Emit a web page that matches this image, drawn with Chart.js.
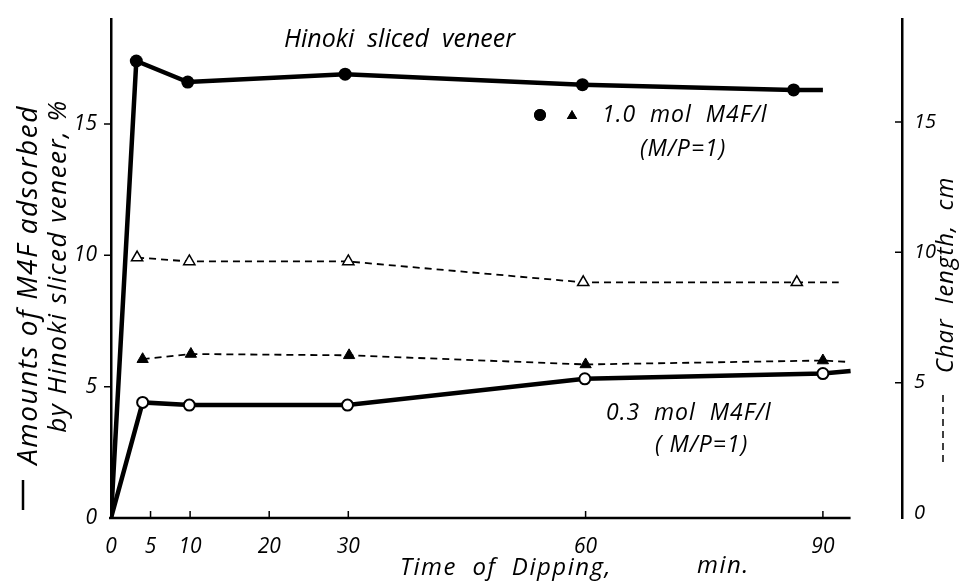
<!DOCTYPE html>
<html>
<head>
<meta charset="utf-8">
<script src="https://cdn.jsdelivr.net/npm/chart.js@4.4.0/dist/chart.umd.min.js"></script>
<style>
  html, body { margin: 0; padding: 0; background: #fff; }
  #wrap { width: 964px; height: 584px; position: relative; }
</style>
</head>
<body>
<div id="wrap"><canvas id="chart"></canvas></div>
<script>
// dipping time (min) and M4F adsorbed (%) - solid lines, left axis
const timeHigh = [0, 3.2, 9.7, 29.6, 59.6, 86.3, 90];
const adsorbHigh = [0, 17.4, 16.6, 16.9, 16.5, 16.3, 16.3];
const timeLow = [0, 4.0, 9.9, 29.9, 59.9, 90, 93.5];
const adsorbLow = [0, 4.4, 4.3, 4.3, 5.3, 5.5, 5.6];

// char length (cm) - dashed lines, right axis
const timeCharHigh = [4.0, 10.1, 30.1, 60, 90, 93];
const charHigh = [5.9, 6.1, 6.05, 5.7, 5.85, 5.8];
const timeCharLow = [3.3, 9.9, 30, 59.7, 86.7, 92];
const charLow = [9.8, 9.65, 9.65, 8.85, 8.85, 8.85];

// tick labels
const timeTicks = [0, 5, 10, 20, 30, 60, 90];
const percentTicks = [0, 5, 10, 15];
const charTicks = [0, 5, 10, 15];

const FONT = '"Open Sans", "DejaVu Sans", sans-serif';

function toPoints(xs, ys) {
    return xs.map((x, i) => ({x: x, y: ys[i]}));
}

// radius 0 on the line ends that carry no marker
function radii(n, r, first, last) {
    return Array.from({length: n}, (_, i) => ((first && i === 0) || (last && i === n - 1)) ? 0 : r);
}

// write text turned a quarter left, centred on (x, y)
function upText(ctx, text, x, y, font, spacing) {
    ctx.save();
    ctx.translate(x, y);
    ctx.rotate(-Math.PI / 2);
    ctx.textAlign = 'center';
    ctx.font = font;
    ctx.letterSpacing = spacing;
    ctx.fillText(text, 0, 0);
    ctx.restore();
}

// axis lines, tick marks and all the hand lettering
const decorPlugin = {
    id: 'decor',
    afterDraw(chart) {
        const ctx = chart.ctx;
        const x = chart.scales.x;
        const y = chart.scales.y;
        const yc = chart.scales.yChar;
        const area = chart.chartArea;
        ctx.save();
        ctx.strokeStyle = '#000';
        ctx.fillStyle = '#000';

        // x axis line stops short of the right axis
        ctx.lineWidth = 2.5;
        ctx.beginPath();
        ctx.moveTo(area.left - 2, area.bottom);
        ctx.lineTo(x.getPixelForValue(93.5), area.bottom);
        ctx.stroke();

        ctx.lineWidth = 1.5;
        ctx.beginPath();
        timeTicks.slice(1).forEach(v => {
            const px = x.getPixelForValue(v);
            ctx.moveTo(px, area.bottom);
            ctx.lineTo(px, area.bottom - 7);
        });
        percentTicks.slice(1).forEach(v => {
            const py = y.getPixelForValue(v);
            ctx.moveTo(area.left - 7, py);
            ctx.lineTo(area.left, py);
        });
        charTicks.slice(1).forEach(v => {
            const py = yc.getPixelForValue(v);
            ctx.moveTo(area.right - 7, py);
            ctx.lineTo(area.right, py);
        });
        ctx.stroke();

        // title
        ctx.textBaseline = 'middle';
        ctx.textAlign = 'left';
        ctx.font = 'italic 25px ' + FONT;
        ctx.fillText('Hinoki  sliced  veneer', 284, 40);

        // series notes with their markers
        const dp = Chart.helpers.drawPoint;
        ctx.lineWidth = 2;
        dp(ctx, {pointStyle: 'circle', radius: 6, rotation: 0}, 540, 115);
        ctx.fill();
        dp(ctx, {pointStyle: 'triangle', radius: 6, rotation: 0}, 572, 116);
        ctx.fill();
        ctx.fillStyle = '#fff';
        dp(ctx, {pointStyle: 'circle', radius: 4.5, rotation: 0}, 544, 413);
        dp(ctx, {pointStyle: 'triangle', radius: 6, rotation: 0}, 577, 414);
        ctx.fillStyle = '#000';

        ctx.font = 'italic 23px ' + FONT;
        ctx.letterSpacing = '1px';
        ctx.fillText('1.0  mol  M4F/l', 602, 115);
        ctx.fillText('(M/P=1)', 640, 149);
        ctx.fillText('0.3  mol  M4F/l', 606, 413);
        ctx.fillText('( M/P=1)', 655, 445);

        // x axis title
        ctx.font = 'italic 24px ' + FONT;
        ctx.letterSpacing = '1.5px';
        ctx.fillText('Time  of  Dipping,', 400, 568);
        ctx.fillText('min.', 697, 566);

        // left axis title, read from bottom to top
        upText(ctx, 'Amounts of M4F adsorbed', 29, 285, 'italic 28px ' + FONT, '1.5px');
        upText(ctx, 'by Hinoki sliced veneer, %', 59, 266, 'italic 26px ' + FONT, '1.5px');
        ctx.lineWidth = 2.5;
        ctx.beginPath();
        ctx.moveTo(23, 480);
        ctx.lineTo(23, 510);
        ctx.stroke();

        // right axis title
        upText(ctx, 'Char  length,  cm', 946, 275, 'italic 24px ' + FONT, '1px');
        ctx.lineWidth = 1.5;
        ctx.setLineDash([7, 5]);
        ctx.beginPath();
        ctx.moveTo(943, 395);
        ctx.lineTo(943, 462);
        ctx.stroke();

        ctx.restore();
    }
};

const tickFont = {family: FONT, style: 'italic', size: 21};

const ctx = document.getElementById('chart').getContext('2d');
const myChart = new Chart(ctx, {
    type: 'line',
    data: {
        datasets: [{
            label: '1.0 mol M4F/l',
            data: toPoints(timeHigh, adsorbHigh),
            yAxisID: 'y',
            borderColor: '#000',
            borderWidth: 4.5,
            backgroundColor: '#000',
            pointStyle: 'circle',
            pointRadius: radii(timeHigh.length, 6.5, true, true),
            pointBorderWidth: 0,
            pointBackgroundColor: '#000'
        }, {
            label: '0.3 mol M4F/l',
            data: toPoints(timeLow, adsorbLow),
            yAxisID: 'y',
            borderColor: '#000',
            borderWidth: 4.5,
            pointStyle: 'circle',
            pointRadius: radii(timeLow.length, 5.5, true, true),
            pointBorderWidth: 2,
            pointBorderColor: '#000',
            pointBackgroundColor: '#fff'
        }, {
            label: '1.0 mol char length',
            data: toPoints(timeCharHigh, charHigh),
            yAxisID: 'yChar',
            borderColor: '#000',
            borderWidth: 1.8,
            borderDash: [7, 5],
            pointStyle: 'triangle',
            pointRadius: radii(timeCharHigh.length, 6.5, false, true),
            pointBorderWidth: 1,
            pointBorderColor: '#000',
            pointBackgroundColor: '#000'
        }, {
            label: '0.3 mol char length',
            data: toPoints(timeCharLow, charLow),
            yAxisID: 'yChar',
            borderColor: '#000',
            borderWidth: 1.8,
            borderDash: [7, 5],
            pointStyle: 'triangle',
            pointRadius: radii(timeCharLow.length, 6.5, false, true),
            pointBorderWidth: 1.5,
            pointBorderColor: '#000',
            pointBackgroundColor: '#fff'
        }]
    },
    options: {
        responsive: true,
        maintainAspectRatio: false,
        animation: false,
        layout: {padding: {top: 19, left: 0, right: 0, bottom: 0}},
        plugins: {legend: {display: false}, tooltip: {enabled: false}},
        elements: {line: {tension: 0}},
        scales: {
            x: {
                type: 'linear',
                min: 0,
                max: 100,
                afterBuildTicks: s => { s.ticks = timeTicks.map(v => ({value: v})); },
                afterFit: s => { s.height = 66; },
                grid: {display: false},
                border: {display: false},
                ticks: {color: '#000', font: tickFont, padding: 8, maxRotation: 0, autoSkip: false}
            },
            y: {
                position: 'left',
                min: 0,
                max: 19,
                afterBuildTicks: s => { s.ticks = percentTicks.map(v => ({value: v})); },
                afterFit: s => { s.width = 111; },
                grid: {display: false},
                border: {display: true, color: '#000', width: 2.5},
                ticks: {color: '#000', font: tickFont, padding: 6}
            },
            yChar: {
                position: 'right',
                min: -0.19,
                max: 18.95,
                afterBuildTicks: s => { s.ticks = charTicks.map(v => ({value: v})); },
                afterFit: s => { s.width = 62; },
                grid: {display: false},
                border: {display: true, color: '#000', width: 2.5},
                ticks: {color: '#000', font: {family: FONT, style: 'italic', size: 20}, padding: 4}
            }
        }
    },
    plugins: [decorPlugin]
});
</script>
</body>
</html>
